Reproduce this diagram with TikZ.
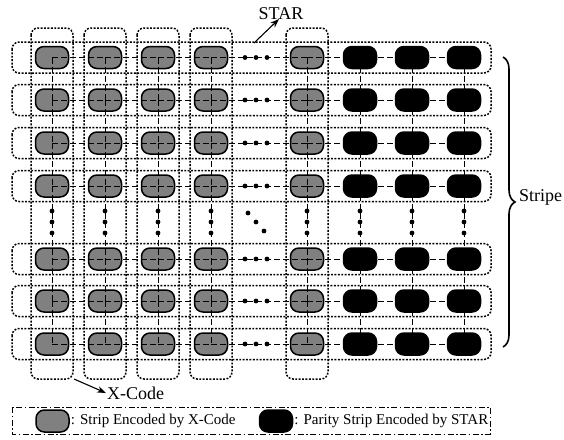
\documentclass[tikz,border=0pt]{standalone}
\usepackage{fontspec}
\setmainfont{Liberation Serif}
\usetikzlibrary{decorations.pathreplacing,arrows.meta}
\begin{document}
\begin{tikzpicture}[x=1pt,y=-1pt,
  strip/.style={draw=black,line width=1.5pt,rounded corners=8.5pt,
    minimum width=33pt,minimum height=22pt,inner sep=0pt},
  xstrip/.style={strip,fill=gray},
  pstrip/.style={strip,fill=black},
  groupbox/.style={draw,line width=1.5pt,dash pattern=on 1.9pt off 1.5pt,rounded corners=7pt},
  link/.style={draw=black,line width=1pt,dash pattern=on 6pt off 3pt},
  pointer/.style={draw,line width=1.1pt,-{Stealth[length=9pt,width=6.5pt]}},
  lbl/.style={inner sep=1pt,font=\fontsize{18}{20}\selectfont},
  legtext/.style={inner sep=1pt,anchor=west,font=\fontsize{15}{17}\selectfont},
]
\useasboundingbox (0,0) rectangle (564,439);

% row groups (STAR) and column groups (X-Code)
\foreach \yy in {57.5,100,143,186,259,301,344}
  \draw[groupbox] (12,\yy-15.5) rectangle (491,\yy+15.5);
\foreach \xx in {52,105,158,211,307}
  \draw[groupbox] (\xx-21,28) rectangle (\xx+21,379);

% strips: data strips in columns 1-5, parity strips in columns 6-8
\foreach \rr/\yy in {1/57.5,2/100,3/143,4/186,5/259,6/301,7/344}{
  \foreach \cc/\xx in {1/52,2/105,3/158,4/211,5/307}
    \node[xstrip] (s\rr\cc) at (\xx,\yy) {};
  \foreach \cc/\xx in {6/360,7/412,8/464}
    \node[pstrip] (s\rr\cc) at (\xx,\yy) {};
}

% links along rows
\foreach \rr in {1,2,3,4,5,6,7}{
  \foreach \cc/\dd in {1/2,2/3,3/4,4/5,5/6,6/7,7/8}{
    \draw[link] (s\rr\cc.center) -- (s\rr\dd.center);
  }
}
% links along columns
\foreach \cc in {1,2,3,4,5,6,7,8}{
  \foreach \rr/\qq in {1/2,2/3,3/4,4/5,5/6,6/7}{
    \draw[link] (s\rr\cc.center) -- (s\qq\cc.center);
  }
}

% ellipses
\foreach \yy in {57.5,100,143,186,259,301,344}
  \foreach \xx in {245,256,267}
    \fill (\xx,\yy) circle (2.4pt);
\foreach \xx in {52,105,158,211,307,360,412,464}
  \foreach \yy in {211,222,233}
    \fill (\xx,\yy) circle (2.4pt);
\foreach \xx/\yy in {248/213,256/222,264/231}
  \fill (\xx,\yy) circle (2.4pt);

% labels
\node[lbl] (star) at (281,14) {STAR};
\coordinate (starfoot) at (254,43);
\coordinate (startip) at (279,19);
\draw[pointer] (starfoot) -- (startip);

\node[lbl,anchor=west] (xcode) at (106,393) {X-Code};
\coordinate (xfoot) at (74,379);
\draw[pointer] (xfoot) -- (xcode.west);

\coordinate (bracetop) at (503,57);
\coordinate (bracebot) at (503,347);
\draw[line width=1.6pt,decorate,decoration={brace,amplitude=12pt}] (bracetop) -- (bracebot);
\node[lbl,anchor=west] (stripe) at (518,197) {Stripe};

% legend
\draw[line width=0.9pt,dash pattern=on 6pt off 2.5pt on 1.5pt off 2.5pt] (12,407) rectangle (490,434);
\node[xstrip] (lgx) at (52.5,421) {};
\node[legtext] (lgxt) at (lgx.east) {: Strip Encoded by X-Code};
\node[pstrip] (lgp) at (276,421) {};
\node[legtext] (lgpt) at (lgp.east) {: Parity Strip Encoded by STAR};
\end{tikzpicture}
\end{document}
